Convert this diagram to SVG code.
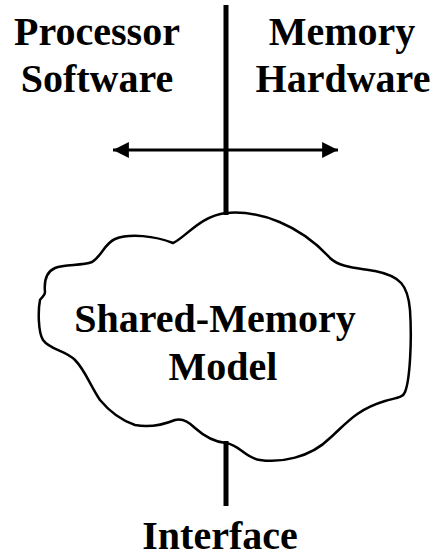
<svg xmlns="http://www.w3.org/2000/svg" width="438" height="558" viewBox="0 0 438 558">
<style>
.t{font-family:"Liberation Serif","Times New Roman",serif;font-weight:bold;font-size:40px;fill:#000;text-anchor:middle}
.ln{stroke:#000;fill:none}
</style>
<defs>
<marker id="ah" viewBox="0 0 10 10" refX="10" refY="5" markerWidth="10" markerHeight="5.3" markerUnits="strokeWidth" orient="auto-start-reverse">
<path d="M0,0 L10,5 L0,10 Z" fill="#000"/>
</marker>
</defs>
<rect width="438" height="558" fill="#fff"/>
<g id="connectors">
<line class="ln" x1="226" y1="5" x2="226" y2="215" stroke-width="5"/>
<line class="ln" x1="226" y1="441" x2="226" y2="506" stroke-width="5"/>
<line class="ln" x1="113" y1="150" x2="338" y2="150" stroke-width="3" marker-start="url(#ah)" marker-end="url(#ah)"/>
</g>
<g id="labels">
<text class="t" x="97" y="45">Processor</text>
<text class="t" x="97" y="92">Software</text>
<text class="t" x="342" y="45">Memory</text>
<text class="t" x="343" y="92">Hardware</text>
<text class="t" x="220" y="549">Interface</text>
</g>
<g id="model">
<path class="ln" fill="#fff" stroke-width="2.5" d="M226,213 C260,210 300,225 330,258 C340,268 360,268 375,271 C400,276 408,285 410,310 C412,340 410,380 405,392 C403,398 395,398 385,401 C355,410 345,425 330,438 C310,458 280,463 260,460 C245,458 240,445 226,443 C214,442 205,437 195,428 C188,421 182,418 175,420 C165,424 150,428 135,425 C120,420 110,412 100,400 C90,385 85,370 75,360 C65,350 50,350 43,340 C38,332 38,310 40,300 C42,297 45,296 45,292 C44,282 46,272 55,268 C65,264 82,266 92,262 C102,256 104,244 115,239 C130,233 155,236 173,243 C185,238 200,216 226,213 Z"/>
<text class="t" x="215" y="332">Shared-Memory</text>
<text class="t" x="223" y="380">Model</text>
</g>
</svg>
